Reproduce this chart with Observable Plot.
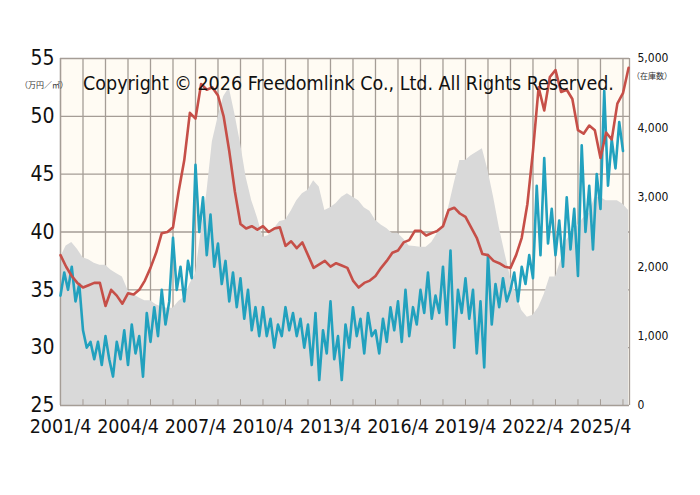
<!DOCTYPE html>
<html><head><meta charset="utf-8">
<script src="https://cdn.jsdelivr.net/npm/d3@7"></script>
<script src="https://cdn.jsdelivr.net/npm/@observablehq/plot@0.6"></script>
<style>body{margin:0;background:#fff;font-family:"DejaVu Sans",sans-serif}#c{position:relative;width:700px;height:495px}
.u{position:absolute;font-size:8px;color:#333;font-family:"Noto Sans CJK JP",sans-serif}</style>
</head><body><div id="c"></div>
<script>
const startYear = 2001.25;
// 万円/㎡, quarterly from 2001/4
const priceRed = [38.0,37.0,36.2,35.6, 35.2,35.4,35.6,35.6, 33.6,35.0,34.5,33.8, 34.7,34.6,35.0,35.8,
 36.9,38.2,39.9,40.0, 40.4,43.5,46.2,50.3, 49.8,52.8,52.3,52.5, 51.8,50.0,47.0,43.5,
 40.7,40.3,40.5,40.2, 40.5,40.0,40.3,40.4, 38.8,39.2,38.6,39.1, 38.0,36.9,37.2,37.5,
 37.0,37.3,37.1,36.9, 35.8,35.2,35.6,35.8, 36.2,36.9,37.5,38.2, 38.4,39.1,39.3,40.1,
 40.1,39.7,39.9,40.1, 40.5,41.9,42.1,41.6, 41.3,40.4,39.5,38.1, 38.0,37.5,37.3,37.0,
 36.9,38.0,39.5,42.4, 47.0,52.5,50.5,53.4, 54.0,52.1,52.3,51.5, 48.8,48.5,49.2,48.8,
 46.4,48.6,48.0,51.1, 52.0,54.2];
// inventory (在庫数), quarterly from 2001/4
const inventory = [2130,2300,2350,2250, 2130,2100,2050,2020, 2020,1950,1900,1850, 1660,1600,1550,1510,
 1510,1450,1420,1400, 1400,1500,1560,1750, 1900,2500,3050,3800, 4150,4450,4580,4200,
 3780,3290,2950,2710, 2420,2450,2550,2650, 2670,2800,2950,3050, 3100,3240,3150,2810,
 2850,2910,3000,3050, 3000,2950,2850,2800, 2670,2600,2550,2480, 2480,2400,2300,2290,
 2280,2280,2350,2480, 2600,2850,3200,3530, 3530,3600,3650,3700, 3390,3000,2570,2200,
 1850,1600,1370,1270, 1300,1410,1600,1850, 1850,2100,2380,2500, 2600,2700,2770,3000,
 3000,2950,2950,2950, 2900,2810];
// 万円/㎡, bimonthly from 2001/4
const priceBlue = [34.5,36.5,35,37,34,35.5, 31.5,30,30.5,29,30.5,28.5, 31,29,27.5,30.5,29,31.5,
 28.5,32,29.5,31,27.5,33, 30.5,33.5,31,35,32,34, 39.5,35,37,34,37.5,36,
 45.8,40,43,38,41.5,37, 39,35.5,37.5,34,36.5,33.5, 36,32.5,35,31.5,33.5,31,
 33.5,31,32.5,30,32,31, 33.5,31.5,33,31,32.5,30, 32,28.5,33,27.2,31.5,29.5,
 34,29,31,27.2,32,30, 33.5,31,32.5,29.5,33,31, 31.5,29.5,32.5,30.5,33.5,31.5,
 34,30.5,35,31,33.5,32, 35,33,36.5,32.5,34.5,33, 37,32,38.4,30,35,33,
 36,32.5,35,29.5,34,28.3, 38,32,35.5,33.5,36,34, 35,36.5,34,37,35.5,38,
 36,44,38,46.4,39,42, 38,41,37,43,38.5,42, 36.2,47.5,40,44,38.5,45,
 42,52.2,44,48,45.5,49.5, 47];
const xTickLabels = ["2001/4","2004/4","2007/4","2010/4","2013/4","2016/4","2019/4","2022/4","2025/4"];
const rightTicks = [0,1000,2000,3000,4000,5000];

const inv2left = v => 25 + v * 30 / 5000;
const red = priceRed.map((v,i)=>({x:startYear+i/4,y:v}));
const inv = inventory.map((v,i)=>({x:startYear+i/4,y:inv2left(v)}));
const blue = priceBlue.map((v,i)=>({x:startYear+i/6,y:v}));
const years = d3.range(0,26).map(k=>startYear+k);
const labelYears = xTickLabels.map((s,i)=>startYear+3*i);
const gridC = "#a59d96";

const chart = Plot.plot({
  width:700,height:470,marginTop:58,marginBottom:65,marginLeft:60,marginRight:71,
  x:{domain:[startYear,2026.54]},
  y:{domain:[25,55]},
  style:{fontFamily:"DejaVu Sans Condensed, sans-serif",color:"#111"},
  marks:[
    Plot.frame({fill:"#fffbf3",stroke:null}),
    Plot.ruleX(years,{stroke:gridC,strokeWidth:1.3}),
    Plot.ruleY([30,35,40,45,50,55],{stroke:gridC,strokeWidth:1.3}),
    Plot.areaY(inv,{x:"x",y1:25,y2:"y",fill:"#d9d9d9"}),
    Plot.ruleX(years,{y1:25,y2:25.5,stroke:gridC}),
    Plot.ruleX([startYear,2026.54],{stroke:gridC,strokeWidth:1.3}),
    Plot.ruleY([25],{stroke:gridC,strokeWidth:1.5}),
    Plot.line(blue,{x:"x",y:"y",stroke:"#22a1be",strokeWidth:2.6}),
    Plot.line(red,{x:"x",y:"y",stroke:"#c64f48",strokeWidth:2.6}),
    Plot.axisY({anchor:"left",ticks:[25,30,35,40,45,50,55],tickSize:0,tickPadding:6,fontSize:21,label:null}),
    Plot.axisY({anchor:"right",ticks:rightTicks.map(inv2left),tickSize:0,tickPadding:8,fontSize:12,label:null,
      tickFormat:v=>d3.format(",")(Math.round((v-25)*5000/30))}),
    Plot.axisX({ticks:labelYears,tickSize:0,tickPadding:14,fontSize:19.5,label:null,
      tickFormat:v=>xTickLabels[labelYears.indexOf(v)]}),
    Plot.text(["Copyright © 2026 Freedomlink Co., Ltd. All Rights Reserved."],
      {x:2014.05,frameAnchor:"top",dy:18,fontSize:19.5,fill:"#111"})
  ]
});
const c=document.getElementById("c");
c.appendChild(chart);
const u1=document.createElement("div");u1.className="u";u1.style.left="20px";u1.style.top="79px";u1.textContent="（万円／㎡）";
const u2=document.createElement("div");u2.className="u";u2.style.left="632px";u2.style.top="70px";u2.textContent="（在庫数）";
c.appendChild(u1);c.appendChild(u2);
</script></body></html>
